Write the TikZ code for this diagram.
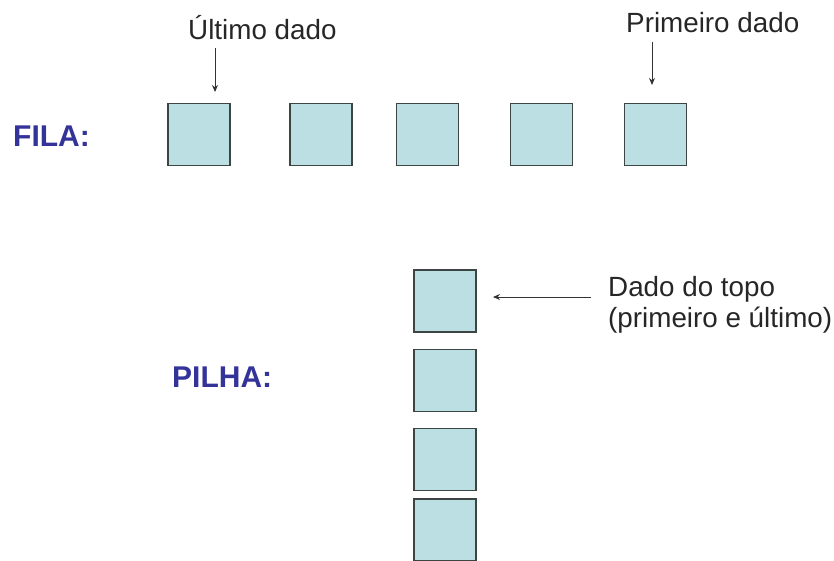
\documentclass[tikz,border=0pt]{standalone}
\usepackage{fontspec}
\setmainfont{Liberation Sans}
\usetikzlibrary{arrows.meta}
\definecolor{boxfill}{HTML}{BBDFE2}
\definecolor{boxline}{HTML}{3C4444}
\definecolor{titleblue}{HTML}{33339A}
\begin{document}
\begin{tikzpicture}[x=1pt,y=-1pt,
  cell/.style={draw=boxline,fill=boxfill,line width=1.6pt,minimum width=62pt,minimum height=62pt,inner sep=0pt},
  lbl/.style={anchor=base west,inner sep=0pt,font=\fontsize{27.8}{31}\selectfont,text=black!85},
  ttl/.style={anchor=base west,inner sep=0pt,font=\fontsize{30}{34}\selectfont\bfseries,text=titleblue},
  pointer/.style={draw=black!80,line width=0.9pt,-{Stealth[length=7pt,width=6pt]}}]
\useasboundingbox (0,0) rectangle (834,561);
% FILA
\node[ttl] (fila) at (13,147) {FILA:};
\node[cell] (f1) at (199,134.5) {};
\node[cell] (f2) at (321,134.5) {};
\node[cell] (f3) at (427.5,134.5) {};
\node[cell] (f4) at (541.5,134.5) {};
\node[cell] (f5) at (655.5,134.5) {};
\node[lbl] (ult) at (188,40) {Último dado};
\node[lbl] (prim) at (626,33) {Primeiro dado};
\coordinate (u1) at (215,48);
\coordinate (u2) at (215,92);
\coordinate (p1) at (652,42);
\coordinate (p2) at (652,85);
\draw[pointer] (u1) -- (u2);
\draw[pointer] (p1) -- (p2);
% PILHA
\node[ttl] (pilha) at (172,387) {PILHA:};
\node[cell] (s1) at (445,301) {};
\node[cell] (s2) at (445,380.5) {};
\node[cell] (s3) at (445,459.5) {};
\node[cell] (s4) at (445,530) {};
\node[lbl] (topo) at (608,296) {Dado do topo};
\node[lbl] (topo2) at (608,327) {(primeiro e último)};
\coordinate (t1) at (591,297);
\coordinate (t2) at (493,297);
\draw[pointer] (t1) -- (t2);
\end{tikzpicture}
\end{document}
